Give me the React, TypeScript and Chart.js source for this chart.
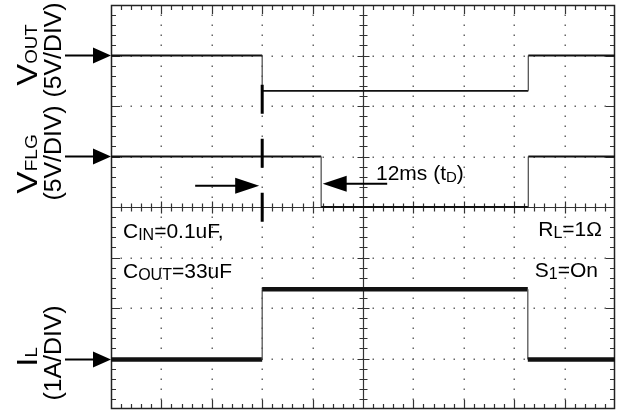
import React, { useEffect, useRef } from "react";
import { Chart, registerables } from "chart.js";

Chart.register(...registerables);

// Scope screen: 10 horizontal divisions, 8 vertical divisions
const X_DIVS = 10;
const Y_DIVS = 8;
const MINOR_PER_DIV = 5;

// Traces: time in divisions, level in divisions (0 = bottom of screen)
const VOUT_T = [0, 3, 3, 8.28, 8.28, 10];
const VOUT_V = [7, 7, 6.3, 6.3, 7, 7];
const VFLG_T = [0, 4.17, 4.17, 8.28, 8.28, 10];
const VFLG_V = [5, 5, 4.0, 4.0, 5, 5];
const IL_T = [0, 3, 3, 8.27, 8.27, 10];
const IL_V = [0.98, 0.98, 2.37, 2.37, 0.98, 0.98];

// Ground-reference arrows on the left edge (levels in divisions)
const REF_LEVELS = [7, 5, 0.98];

// Dashed event marker (time, from level, to level)
const MARKER_T = 3;
const MARKER_FROM = 6.42;
const MARKER_TO = 3.7;

// tD arrows (time values in divisions, level in divisions)
const TD_RIGHT_FROM = 1.67;
const TD_RIGHT_TIP = 2.94;
const TD_RIGHT_LEVEL = 4.42;
const TD_LEFT_TIP = 4.2;
const TD_LEFT_FROM = 5.48;
const TD_LEFT_LEVEL = 4.46;

const FONT = '"Liberation Sans", Arial, Helvetica, sans-serif';

type Run = { text: string; size: number; dy?: number };

function runsWidth(ctx: CanvasRenderingContext2D, runs: Run[]) {
  let w = 0;
  for (const r of runs) {
    ctx.font = `${r.size}px ${FONT}`;
    w += ctx.measureText(r.text).width;
  }
  return w;
}

function drawRuns(
  ctx: CanvasRenderingContext2D,
  x: number,
  y: number,
  runs: Run[],
  align: "left" | "center" | "right"
) {
  const total = runsWidth(ctx, runs);
  let cx = align === "left" ? x : align === "center" ? x - total / 2 : x - total;
  ctx.textAlign = "left";
  ctx.textBaseline = "alphabetic";
  for (const r of runs) {
    ctx.font = `${r.size}px ${FONT}`;
    ctx.fillText(r.text, cx, y + (r.dy || 0));
    cx += ctx.measureText(r.text).width;
  }
}

function drawRotated(
  ctx: CanvasRenderingContext2D,
  baseX: number,
  centerY: number,
  runs: Run[],
  stretch: number
) {
  ctx.save();
  ctx.translate(baseX, centerY);
  ctx.rotate(-Math.PI / 2);
  ctx.scale(stretch, 1);
  drawRuns(ctx, 0, 0, runs, "center");
  ctx.restore();
}

function arrow(
  ctx: CanvasRenderingContext2D,
  fromX: number,
  tipX: number,
  y: number,
  headLen: number,
  half: number
) {
  const dir = Math.sign(tipX - fromX);
  const baseX = tipX - dir * headLen;
  ctx.beginPath();
  ctx.moveTo(fromX, y);
  ctx.lineTo(baseX + dir * 2, y);
  ctx.lineWidth = 2;
  ctx.strokeStyle = "#000";
  ctx.stroke();
  ctx.beginPath();
  ctx.moveTo(tipX, y);
  ctx.lineTo(baseX, y - half);
  ctx.lineTo(baseX, y + half);
  ctx.closePath();
  ctx.fillStyle = "#000";
  ctx.fill();
}

const gridPlugin = {
  id: "scopeGrid",
  beforeDatasetsDraw(chart: any) {
    const { ctx, chartArea: a, scales } = chart;
    const xs = scales.x;
    const ys = scales.y;
    ctx.save();
    // dotted graticule
    ctx.fillStyle = "#666";
    for (let i = 1; i < X_DIVS; i++) {
      if (i === X_DIVS / 2) continue;
      const px = Math.round(xs.getPixelForValue(i));
      for (let k = 1; k < Y_DIVS * MINOR_PER_DIV; k++) {
        const py = Math.round(ys.getPixelForValue(k / MINOR_PER_DIV));
        ctx.fillRect(px - 0.5, py - 0.5, 1.5, 1.5);
      }
    }
    for (let j = 1; j < Y_DIVS; j++) {
      if (j === Y_DIVS / 2) continue;
      const py = Math.round(ys.getPixelForValue(j));
      for (let k = 1; k < X_DIVS * MINOR_PER_DIV; k++) {
        const px = Math.round(xs.getPixelForValue(k / MINOR_PER_DIV));
        ctx.fillRect(px - 0.5, py - 0.5, 1.5, 1.5);
      }
    }
    ctx.strokeStyle = "#333";
    ctx.lineWidth = 1.2;
    // center axes
    const cx = Math.round(xs.getPixelForValue(X_DIVS / 2)) + 0.5;
    const cy = Math.round(ys.getPixelForValue(Y_DIVS / 2)) + 0.5;
    ctx.beginPath();
    ctx.moveTo(cx, a.top);
    ctx.lineTo(cx, a.bottom);
    ctx.moveTo(a.left, cy);
    ctx.lineTo(a.right, cy);
    for (let k = 1; k < X_DIVS * MINOR_PER_DIV; k++) {
      const px = Math.round(xs.getPixelForValue(k / MINOR_PER_DIV)) + 0.5;
      const major = k % MINOR_PER_DIV === 0;
      const cl = major ? 6 : 4;
      ctx.moveTo(px, cy - cl);
      ctx.lineTo(px, cy + cl);
      const fl = major ? 9 : 5;
      ctx.moveTo(px, a.top);
      ctx.lineTo(px, a.top + fl);
      ctx.moveTo(px, a.bottom);
      ctx.lineTo(px, a.bottom - fl);
    }
    for (let k = 1; k < Y_DIVS * MINOR_PER_DIV; k++) {
      const py = Math.round(ys.getPixelForValue(k / MINOR_PER_DIV)) + 0.5;
      const major = k % MINOR_PER_DIV === 0;
      const cl = major ? 6 : 4;
      ctx.moveTo(cx - cl, py);
      ctx.lineTo(cx + cl, py);
      const fl = major ? 9 : 5;
      ctx.moveTo(a.left, py);
      ctx.lineTo(a.left + fl, py);
      ctx.moveTo(a.right, py);
      ctx.lineTo(a.right - fl, py);
    }
    ctx.stroke();
    // frame
    ctx.lineWidth = 1.5;
    ctx.strokeStyle = "#222";
    ctx.strokeRect(a.left + 0.5, a.top + 0.5, a.right - a.left - 1, a.bottom - a.top - 1);
    ctx.restore();
  },
  afterDatasetsDraw(chart: any) {
    const { ctx, chartArea: a, scales } = chart;
    const xs = scales.x;
    const ys = scales.y;
    ctx.save();
    // dashed event marker
    const mx = xs.getPixelForValue(MARKER_T);
    ctx.beginPath();
    ctx.setLineDash([29, 25]);
    ctx.lineWidth = 3;
    ctx.strokeStyle = "#000";
    ctx.moveTo(mx, ys.getPixelForValue(MARKER_FROM));
    ctx.lineTo(mx, ys.getPixelForValue(MARKER_TO));
    ctx.stroke();
    ctx.setLineDash([]);

    // reference arrows at left
    for (const lv of REF_LEVELS) {
      const py = ys.getPixelForValue(lv);
      arrow(ctx, a.left - 46, a.left, py, 18, 8);
    }
    // tD arrows
    arrow(
      ctx,
      xs.getPixelForValue(TD_RIGHT_FROM),
      xs.getPixelForValue(TD_RIGHT_TIP),
      ys.getPixelForValue(TD_RIGHT_LEVEL),
      24,
      8
    );
    arrow(
      ctx,
      xs.getPixelForValue(TD_LEFT_FROM),
      xs.getPixelForValue(TD_LEFT_TIP),
      ys.getPixelForValue(TD_LEFT_LEVEL),
      24,
      8
    );

    ctx.fillStyle = "#000";
    // in-screen annotations
    drawRuns(ctx, 376, 180, [
      { text: "12ms (t", size: 21 },
      { text: "D", size: 15, dy: 2 },
      { text: ")", size: 21 },
    ], "left");
    drawRuns(ctx, 123, 238, [
      { text: "C", size: 21 },
      { text: "IN", size: 16, dy: 2 },
      { text: "=0.1uF,", size: 21 },
    ], "left");
    drawRuns(ctx, 123, 278, [
      { text: "C", size: 21 },
      { text: "OUT", size: 16, dy: 2 },
      { text: "=33uF", size: 21 },
    ], "left");
    drawRuns(ctx, 602, 236, [
      { text: "R", size: 21 },
      { text: "L", size: 16, dy: 2 },
      { text: "=1Ω", size: 21 },
    ], "right");
    drawRuns(ctx, 598, 277, [
      { text: "S", size: 21 },
      { text: "1", size: 16, dy: 2 },
      { text: "=On", size: 21 },
    ], "right");

    // rotated channel labels
    drawRotated(ctx, 37, 55, [
      { text: "V", size: 30 },
      { text: "OUT", size: 17 },
    ], 1.1);
    drawRotated(ctx, 37, 164, [
      { text: "V", size: 30 },
      { text: "FLG", size: 17 },
    ], 1.12);
    drawRotated(ctx, 37, 357, [
      { text: "I", size: 30 },
      { text: "L", size: 17 },
    ], 1.1);
    drawRotated(ctx, 61, 50, [{ text: "(5V/DIV)", size: 23 }], 1.08);
    drawRotated(ctx, 61, 153, [{ text: "(5V/DIV)", size: 23 }], 1.08);
    drawRotated(ctx, 61, 353, [{ text: "(1A/DIV)", size: 23 }], 1.08);
    ctx.restore();
  },
};

function pts(t: number[], v: number[]) {
  return t.map((x, i) => ({ x, y: v[i] }));
}

function traceDataset(t: number[], v: number[], width: number) {
  return {
    data: pts(t, v),
    borderColor: "#111",
    borderWidth: width,
    pointRadius: 0,
    tension: 0,
    fill: false,
    segment: {
      borderColor: (c: any) => (c.p0.parsed.x === c.p1.parsed.x ? "#555" : "#111"),
      borderWidth: (c: any) => (c.p0.parsed.x === c.p1.parsed.x ? 1.3 : width),
    },
  };
}

export default function App() {
  const ref = useRef<HTMLCanvasElement | null>(null);
  useEffect(() => {
    if (!ref.current) return;
    const chart = new Chart(ref.current, {
      type: "line",
      data: {
        datasets: [
          traceDataset(VOUT_T, VOUT_V, 1.8),
          traceDataset(VFLG_T, VFLG_V, 1.8),
          traceDataset(IL_T, IL_V, 4.5),
        ] as any,
      },
      options: {
        animation: false,
        responsive: false,
        devicePixelRatio: 1,
        layout: { padding: { left: 111, right: 12, top: 5, bottom: 2 } },
        scales: {
          x: { type: "linear", min: 0, max: X_DIVS, display: false },
          y: { type: "linear", min: 0, max: Y_DIVS, display: false },
        },
        plugins: {
          legend: { display: false },
          tooltip: { enabled: false },
        },
      },
      plugins: [gridPlugin],
    });
    return () => chart.destroy();
  }, []);
  return (
    <div style={{ position: "absolute", left: 0, top: 0, width: 627, height: 411, background: "#fff" }}>
      <canvas ref={ref} width={627} height={411} style={{ display: "block" }} />
    </div>
  );
}
